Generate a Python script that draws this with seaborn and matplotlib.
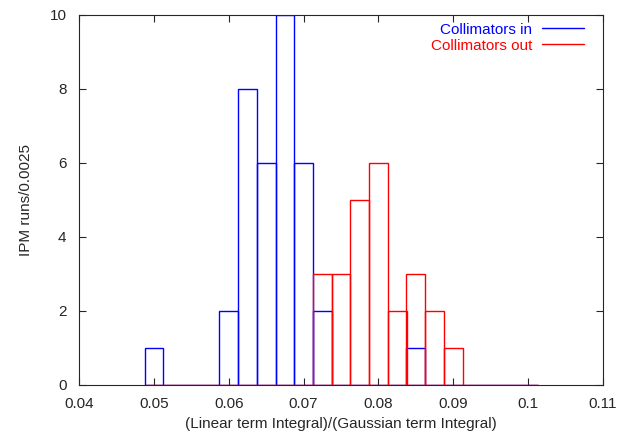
import numpy as np
import pandas as pd
import matplotlib
matplotlib.use("Agg")
import matplotlib.pyplot as plt
import seaborn as sns
from matplotlib.lines import Line2D

# Bin centres (width 0.0025)
bin_centers = [0.05 + 0.0025 * i for i in range(21)]  # 0.05 .. 0.10
counts_in = {0.05: 1, 0.06: 2, 0.0625: 8, 0.065: 6, 0.0675: 10, 0.07: 6, 0.0725: 2, 0.085: 1}
counts_out = {0.0725: 3, 0.075: 3, 0.0775: 5, 0.08: 6, 0.0825: 2, 0.085: 3, 0.0875: 2, 0.09: 1}

def series(d):
    return [next((v for k, v in d.items() if abs(k - c) < 1e-9), 0) for c in bin_centers]

vals_in = series(counts_in)
vals_out = series(counts_out)

x_ticks = [0.04, 0.05, 0.06, 0.07, 0.08, 0.09, 0.10, 0.11]
x_ticklabels = ["0.04", "0.05", "0.06", "0.07", "0.08", "0.09", "0.1", "0.11"]
y_ticks = [0, 2, 4, 6, 8, 10]

df = pd.DataFrame({
    "x": bin_centers * 2,
    "w": vals_in + vals_out,
    "series": ["Collimators in"] * len(bin_centers) + ["Collimators out"] * len(bin_centers),
})

sns.set_style("ticks")
plt.rcParams["font.family"] = ["Liberation Sans", "DejaVu Sans"]

fig = plt.figure(figsize=(6.23, 4.33), dpi=100)
ax = fig.add_axes([79 / 623, 1 - 385 / 433, (603 - 79) / 623, (385 - 15) / 433])

for name, col in [("Collimators in", "#0000ff"), ("Collimators out", "#ff0000")]:
    sub = df[df["series"] == name]
    sns.histplot(data=sub, x="x", weights="w", binwidth=0.0025,
                 binrange=(0.04875, 0.10125), element="bars",
                 fill=False, color=col, linewidth=1.0, ax=ax)

ax.set_xlim(0.04, 0.11)
ax.set_ylim(0, 10)
ax.set_xticks(x_ticks)
ax.set_xticklabels(x_ticklabels)
ax.set_yticks(y_ticks)
ax.tick_params(direction="in", top=True, right=True, labelsize=11, length=5, width=0.8)
ax.tick_params(axis="x", pad=9)
ax.tick_params(axis="y", pad=9)
for s in ax.spines.values():
    s.set_linewidth(0.8)
ax.set_xlabel("(Linear term Integral)/(Gaussian term Integral)", fontsize=11)
ax.set_ylabel("IPM runs/0.0025", fontsize=11)
ax.xaxis.set_label_coords(0.5, -0.087)
ax.yaxis.set_label_coords(-0.088, 0.5)

handles = [Line2D([], [], color="#0000ff", lw=1.0), Line2D([], [], color="#ff0000", lw=1.0)]
leg = ax.legend(handles, ["Collimators in", "Collimators out"], loc="upper right",
                bbox_to_anchor=(0.9637, 0.979), frameon=False, markerfirst=False,
                fontsize=11, handlelength=2.75, labelspacing=0.12, borderaxespad=0.0,
                borderpad=0.0, handletextpad=0.65)
for t, c in zip(leg.get_texts(), ["#0000ff", "#ff0000"]):
    t.set_color(c)
    t.set_ha("right")

fig.savefig("out.png", dpi=100)
